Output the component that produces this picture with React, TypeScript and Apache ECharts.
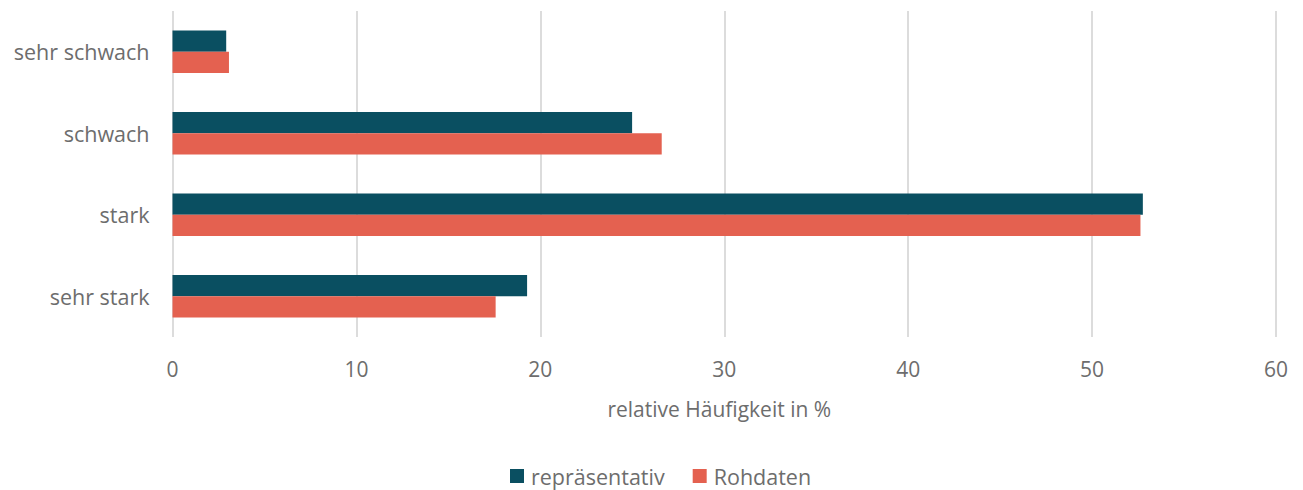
import React, { useEffect, useRef } from "react";
import * as echarts from "echarts";

const categories = ["sehr schwach", "schwach", "stark", "sehr stark"];
const seriesNames = ["repräsentativ", "Rohdaten"];
const reprValues = [2.92, 24.99, 52.76, 19.28];
const rohValues = [3.07, 26.6, 52.63, 17.57];
const xTicks = { min: 0, max: 60, interval: 10 };
const colors = ["#0a4f61", "#e46150"];

const FONT = "'Open Sans', sans-serif";
const TEXT = "#6d6d6d";

export default function App() {
  const ref = useRef<HTMLDivElement>(null);
  useEffect(() => {
    if (!ref.current) return;
    const chart = echarts.init(ref.current, undefined, { renderer: "svg" });
    chart.setOption({
      animation: false,
      textStyle: { fontFamily: FONT },
      grid: { left: 172.5, right: 27, top: 11, bottom: 153, containLabel: false },
      legend: {
        data: seriesNames,
        bottom: -2,
        left: 505,
        icon: "rect",
        itemWidth: 14,
        itemHeight: 14,
        itemGap: 28,
        textStyle: { fontFamily: FONT, fontSize: 21.5, color: TEXT, padding: [0, 0, 0, 2] },
      },
      xAxis: {
        type: "value",
        min: xTicks.min,
        max: xTicks.max,
        interval: xTicks.interval,
        name: "relative Häufigkeit in %",
        nameLocation: "middle",
        nameGap: 61,
        nameTextStyle: { fontFamily: FONT, fontSize: 21, color: TEXT, padding: [0, 10, 0, 0] },
        axisLine: { show: false },
        axisTick: { show: false },
        axisLabel: { fontFamily: FONT, fontSize: 21, color: TEXT, margin: 21 },
        splitLine: { show: true, lineStyle: { color: "#dcdcdc", width: 2 } },
      },
      yAxis: {
        type: "category",
        data: categories,
        inverse: true,
        axisLine: { show: false },
        axisTick: { show: false },
        axisLabel: { fontFamily: FONT, fontSize: 21.5, color: TEXT, margin: 23 },
      },
      series: [
        {
          name: seriesNames[0],
          type: "bar",
          data: reprValues,
          itemStyle: { color: colors[0] },
          barGap: "0%",
          barCategoryGap: "48%",
        },
        {
          name: seriesNames[1],
          type: "bar",
          data: rohValues,
          itemStyle: { color: colors[1] },
          barGap: "0%",
          barCategoryGap: "48%",
        },
      ],
    });
    return () => chart.dispose();
  }, []);
  return (
    <div
      ref={ref}
      style={{ position: "fixed", left: 0, top: 0, width: 1303, height: 490, background: "#fff" }}
    />
  );
}
